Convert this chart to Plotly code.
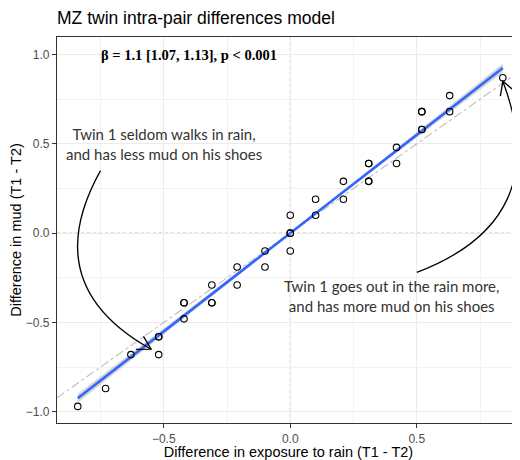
import numpy as np
import plotly.graph_objects as go

# MZ twin pair differences (T1 - T2)
rain_diff = [-0.84, -0.73, -0.63, -0.52, -0.52, -0.52, -0.42, -0.42, -0.42, -0.31, -0.31, -0.31,
             -0.21, -0.21, -0.10, -0.10, 0.0, 0.0, 0.0, 0.0, 0.10, 0.10, 0.21, 0.21,
             0.31, 0.31, 0.31, 0.31, 0.42, 0.42, 0.52, 0.52, 0.52, 0.52, 0.63, 0.63, 0.84]
mud_diff = [-0.97, -0.87, -0.68, -0.68, -0.58, -0.58, -0.48, -0.39, -0.39, -0.39, -0.39, -0.29,
            -0.29, -0.19, -0.19, -0.10, -0.10, 0.0, 0.0, 0.10, 0.10, 0.19, 0.19, 0.29,
            0.29, 0.29, 0.39, 0.39, 0.39, 0.48, 0.58, 0.58, 0.68, 0.68, 0.68, 0.77, 0.87]

# model estimate
beta = 1.1
beta_lo = 1.07
beta_hi = 1.13
beta_label = "<b>β = 1.1 [1.07, 1.13], p < 0.001</b>"
beta_label_pos = (-0.4, 1.0)

# text notes and curved arrows
notes = ["Twin 1 seldom walks in rain,<br>and has less mud on his shoes",
         "Twin 1 goes out in the rain more,<br>and has more mud on his shoes"]
notes_x = [-0.5, 0.4]
notes_y = [0.5, -0.35]
arrow_x0 = [-0.75, 0.50]
arrow_y0 = [0.35, -0.22]
arrow_x1 = [-0.55, 0.84]
arrow_y1 = [-0.65, 0.85]

x_range = [-0.922, 0.908]
y_range = [-1.063, 1.098]

# page body has an 8px margin, so the figure is drawn 8px in from the window edge
W, H = 512, 452
M = dict(l=49, r=0, t=29, b=37)
plot_w = W - M["l"] - M["r"]
plot_h = H - M["t"] - M["b"]
sx = plot_w / (x_range[1] - x_range[0])
sy = plot_h / (y_range[1] - y_range[0])

fig = go.Figure()

# identity line (dash-dot, across whole panel)
fig.add_trace(go.Scatter(x=x_range, y=x_range, mode="lines",
                         line=dict(color="#BDBDBD", width=1.1, dash="dashdot"),
                         hoverinfo="skip"))

# fitted line with confidence ribbon
xs = np.linspace(min(rain_diff), max(rain_diff), 50)
ylo = np.where(xs >= 0, beta_lo * xs, beta_hi * xs)
yhi = np.where(xs >= 0, beta_hi * xs, beta_lo * xs)
fig.add_trace(go.Scatter(x=xs, y=ylo, mode="lines", line=dict(width=0),
                         hoverinfo="skip"))
fig.add_trace(go.Scatter(x=xs, y=yhi, mode="lines", line=dict(width=0),
                         fill="tonexty", fillcolor="rgba(153,153,153,0.4)",
                         hoverinfo="skip"))
fig.add_trace(go.Scatter(x=xs, y=beta * xs, mode="lines",
                         line=dict(color="#3366FF", width=2.6)))

fig.add_trace(go.Scatter(x=rain_diff, y=mud_diff, mode="markers",
                         marker=dict(symbol="circle-open", size=6.5, color="black",
                                     line=dict(width=1.1, color="black"))))

# zero reference lines
fig.add_vline(x=0, line=dict(color="#A8A8A8", width=1, dash="dot"), layer="below")
fig.add_hline(y=0, line=dict(color="#A8A8A8", width=1, dash="dot"), layer="below")


def to_px(x, y):
    return np.array([(x - x_range[0]) * sx, (y_range[1] - y) * sy])


def to_data(p):
    return p[0] / sx + x_range[0], y_range[1] - p[1] / sy


for i in range(len(arrow_x0)):
    p0 = to_px(arrow_x0[i], arrow_y0[i])
    p1 = to_px(arrow_x1[i], arrow_y1[i])
    d = p1 - p0
    L = np.hypot(*d)
    u = d / L
    perp = np.array([-u[1], u[0]])
    ctrl = (p0 + p1) / 2 + 0.5 * L * perp
    c = to_data(ctrl)
    fig.add_shape(type="path",
                  path=f"M {arrow_x0[i]},{arrow_y0[i]} Q {c[0]},{c[1]} {arrow_x1[i]},{arrow_y1[i]}",
                  xref="x", yref="y", line=dict(color="black", width=1.3))
    t = (p1 - ctrl) / np.hypot(*(p1 - ctrl))
    wings = []
    for ang in (np.pi / 6, -np.pi / 6):
        rot = np.array([[np.cos(ang), -np.sin(ang)], [np.sin(ang), np.cos(ang)]])
        wings.append(to_data(p1 - 15 * rot @ t))
    fig.add_shape(type="path",
                  path=(f"M {wings[0][0]},{wings[0][1]} L {arrow_x1[i]},{arrow_y1[i]} "
                        f"L {wings[1][0]},{wings[1][1]}"),
                  xref="x", yref="y", line=dict(color="black", width=1.3))

for i, txt in enumerate(notes):
    fig.add_annotation(x=notes_x[i], y=notes_y[i], text=txt, showarrow=False,
                       font=dict(family="Lato", size=15, color="#333333"))

fig.add_annotation(x=beta_label_pos[0], y=beta_label_pos[1], text=beta_label,
                   showarrow=False,
                   font=dict(family="Liberation Serif", size=14.5, color="black"))

axis_common = dict(showgrid=True, gridcolor="#EBEBEB", gridwidth=1.1, automargin=False,
                   zeroline=False, ticks="outside", ticklen=4, tickwidth=1,
                   tickcolor="#333333", showline=True, linecolor="#333333", linewidth=1.2,
                   tickfont=dict(family="Liberation Sans", size=12, color="#4D4D4D"),
                   minor=dict(showgrid=True, gridcolor="#F2F2F2", gridwidth=0.6, dtick=0.25),
                   dtick=0.5, tickformat=".1f")

fig.update_xaxes(range=x_range, mirror=True, **axis_common,
                 title=dict(text="Difference in exposure to rain (T1 - T2)", standoff=2,
                            font=dict(family="Liberation Sans", size=14.5, color="black")))
fig.update_yaxes(range=y_range, **axis_common,
                 title=dict(text="Difference in mud (T1 - T2)", standoff=6,
                            font=dict(family="Liberation Sans", size=14.5, color="black")))

fig.update_layout(
    width=W, height=H, margin=M,
    showlegend=False,
    plot_bgcolor="white", paper_bgcolor="white",
    title=dict(text="MZ twin intra-pair differences model", x=M["l"] / W, xanchor="left",
               y=1 - 10 / H, yanchor="middle", yref="container",
               font=dict(family="Liberation Sans", size=17.5, color="black")),
)

fig.write_html("out.html")
